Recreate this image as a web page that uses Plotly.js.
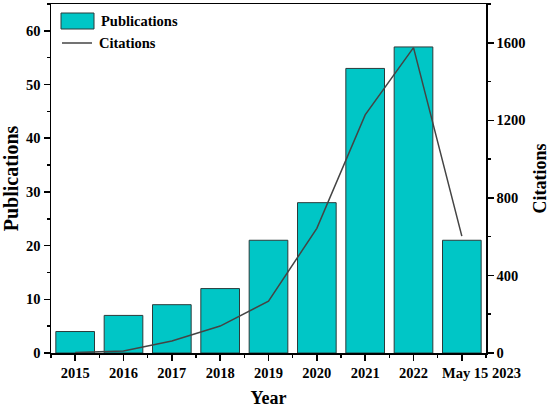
<!DOCTYPE html>
<html>
<head>
<meta charset="utf-8">
<script src="https://cdn.plot.ly/plotly-3.0.1.min.js"></script>
<style>html,body{margin:0;padding:0;background:#fff;}#chart{width:550px;height:408px;}</style>
</head>
<body>
<div id="chart"></div>
<script>
const years = ["2015","2016","2017","2018","2019","2020","2021","2022","May 15 2023"];
const publications = [4, 7, 9, 12, 21, 28, 53, 57, 21];
const citations = [2, 10, 62, 139, 267, 643, 1228, 1575, 603];

const xIdx = years.map((_, i) => i);
const lastIdx = years.length - 1;
const FONT = {family: "Liberation Serif, Times New Roman, serif", color: "#000", weight: "bold"};
const barColor = "#00C6C6";
const lineColor = "#444444";

// plot area in pixels: x 51..486, y 4..353
const L = 51, R = 486, T = 4, B = 353;
const px = x => (x - L) / (R - L);
const py = y => (B - y) / (B - T);

// last label sits to the right of its tick in the reference, drawn as an annotation
const tickLabels = years.map((y, i) => i === lastIdx ? "" : y);

const traces = [
  {
    type: "bar", x: xIdx, y: publications, name: "Publications", yaxis: "y",
    width: 0.8,
    marker: {color: barColor, line: {color: "#2b3b3b", width: 1}},
    hoverinfo: "y"
  },
  {
    type: "scatter", mode: "lines", x: xIdx, y: citations, name: "Citations", yaxis: "y2",
    line: {color: lineColor, width: 1.5}
  }
];

const layout = {
  width: 550, height: 408,
  margin: {l: L, r: 550 - R, t: T, b: 408 - B},
  paper_bgcolor: "#fff", plot_bgcolor: "#fff",
  showlegend: false,
  font: Object.assign({}, FONT, {size: 14}),
  xaxis: {
    range: [-0.5, 8.5],
    tickmode: "array", tickvals: xIdx, ticktext: tickLabels,
    tickangle: 0,
    ticks: "outside", ticklen: 6, tickwidth: 1.5, tickcolor: "#000",
    minor: {tick0: 0.5, dtick: 1, ticks: "outside", ticklen: 3, tickwidth: 1.5, tickcolor: "#000"},
    showline: true, linecolor: "#000", linewidth: 1.5, mirror: true,
    showgrid: false, zeroline: false,
    tickfont: Object.assign({}, FONT, {size: 14.5}),
    title: {text: "Year", font: Object.assign({}, FONT, {size: 18}), standoff: 13}
  },
  yaxis: {
    range: [0, 65],
    dtick: 10, tick0: 0,
    ticks: "outside", ticklen: 6, tickwidth: 1.5, tickcolor: "#000",
    minor: {dtick: 5, ticks: "outside", ticklen: 3, tickwidth: 1.5, tickcolor: "#000"},
    showline: true, linecolor: "#000", linewidth: 1.5,
    showgrid: false, zeroline: false,
    tickfont: Object.assign({}, FONT, {size: 14.5}),
    title: {text: "Publications", font: Object.assign({}, FONT, {size: 20}), standoff: 4}
  },
  yaxis2: {
    overlaying: "y", side: "right",
    range: [0, 1800],
    dtick: 400, tick0: 0,
    ticks: "outside", ticklen: 6, tickwidth: 1.5, tickcolor: "#000",
    minor: {dtick: 200, ticks: "outside", ticklen: 3, tickwidth: 1.5, tickcolor: "#000"},
    showline: true, linecolor: "#000", linewidth: 1.5,
    showgrid: false, zeroline: false,
    tickfont: Object.assign({}, FONT, {size: 14.5}),
    title: {text: "Citations", font: Object.assign({}, FONT, {size: 18}), standoff: 10}
  },
  shapes: [
    {type: "rect", xref: "paper", yref: "paper", x0: px(61), x1: px(94), y0: py(29), y1: py(13),
     fillcolor: barColor, line: {color: "#2b3b3b", width: 1}},
    {type: "line", xref: "paper", yref: "paper", x0: px(62), x1: px(92), y0: py(43), y1: py(43),
     line: {color: lineColor, width: 1.5}}
  ],
  annotations: [
    {xref: "paper", yref: "paper", x: px(99), y: py(21), xanchor: "left", yanchor: "middle",
     text: "Publications", showarrow: false, font: Object.assign({}, FONT, {size: 14.5})},
    {xref: "paper", yref: "paper", x: px(97), y: py(43), xanchor: "left", yanchor: "middle",
     text: "Citations", showarrow: false, font: Object.assign({}, FONT, {size: 14.5})},
    {xref: "x", yref: "paper", x: lastIdx, xshift: 20, y: py(373), xanchor: "center", yanchor: "middle",
     text: years[lastIdx], showarrow: false, font: Object.assign({}, FONT, {size: 14.5})}
  ]
};

Plotly.newPlot("chart", traces, layout, {displayModeBar: false, staticPlot: true});
</script>
</body>
</html>
